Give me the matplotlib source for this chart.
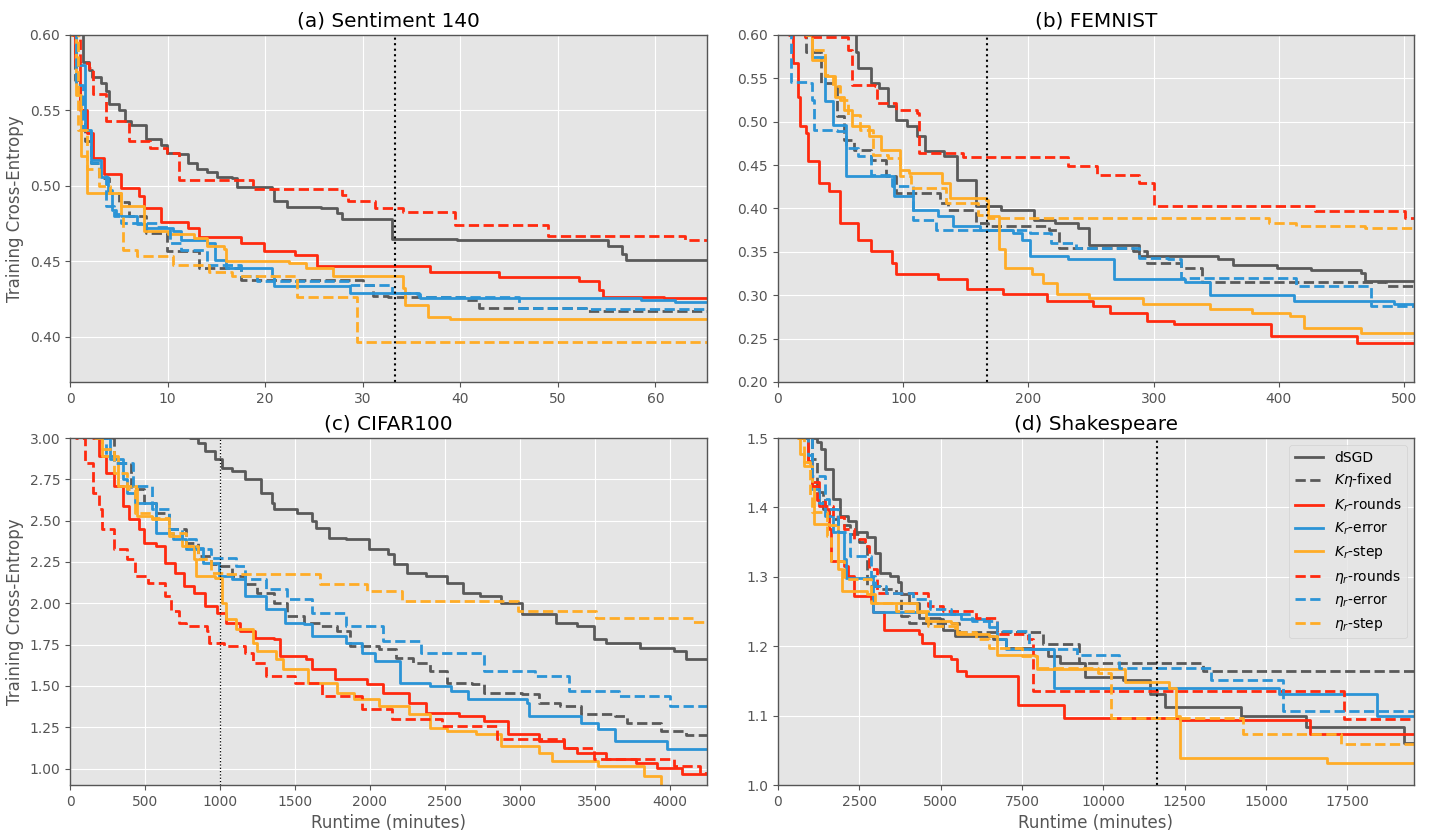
import matplotlib
matplotlib.use("Agg")
import matplotlib.pyplot as plt

plt.style.use("ggplot")

# ------------------------------------------------------------------
# (a) Sentiment 140  -- runtime (minutes), training cross-entropy
# ------------------------------------------------------------------
a_dsgd_t = [0, 1.3, 1.9, 2.3, 3.2, 3.7, 4.0, 5.0, 5.6, 6.3, 7.8, 9.3, 9.9, 11.2, 12.1, 13.0, 14.0, 15.1, 16.6, 17.1,
            20.7, 20.9, 22.2, 25.7, 27.4, 27.9, 33.0, 39.7, 55.1, 56.6, 57.0, 65.3]
a_dsgd_y = [0.65, 0.582, 0.577, 0.572, 0.568, 0.563, 0.554, 0.550, 0.543, 0.540, 0.531, 0.527, 0.522, 0.521, 0.515,
            0.511, 0.509, 0.506, 0.505, 0.499, 0.498, 0.490, 0.486, 0.485, 0.482, 0.478, 0.465, 0.464, 0.460, 0.455,
            0.451, 0.451]
a_kfix_t = [0, 0.5, 1.0, 1.5, 2.2, 3.0, 4.0, 5.0, 6.0, 7.8, 9.9, 13.2, 17.5, 30.0, 31.1, 32.6, 40.4, 41.9, 52.9, 65.3]
a_kfix_y = [0.62, 0.57, 0.55, 0.53, 0.515, 0.505, 0.495, 0.489, 0.480, 0.469, 0.4565, 0.4455, 0.4377, 0.434, 0.427,
            0.4266, 0.424, 0.419, 0.4171, 0.4171]
a_krr_t = [0, 0.5, 1.0, 1.7, 2.4, 3.5, 5.2, 7.1, 7.6, 9.3, 12.1, 13.2, 17.5, 19.9, 23.1, 25.3, 36.9, 44.0, 52.2, 54.2,
           54.6, 60.9, 65.3]
a_krr_y = [0.62, 0.58, 0.55, 0.535, 0.5185, 0.508, 0.4986, 0.493, 0.4853, 0.4758, 0.472, 0.466, 0.462, 0.4565, 0.4543,
           0.447, 0.4432, 0.4395, 0.4372, 0.431, 0.4266, 0.4257, 0.4257]
a_kre_t = [0, 0.6, 1.5, 2.2, 3.2, 3.9, 4.3, 4.7, 5.2, 6.9, 7.8, 10.6, 11.4, 14.0, 14.9, 16.0, 20.7, 20.9, 28.5, 28.7,
           35.6, 35.9, 58.5, 62.0, 65.3]
a_kre_y = [0.62, 0.58, 0.537, 0.517, 0.506, 0.4975, 0.484, 0.481, 0.4798, 0.475, 0.472, 0.470, 0.4643, 0.462, 0.451,
           0.4455, 0.440, 0.4337, 0.4337, 0.4288, 0.4284, 0.4255, 0.4245, 0.4233, 0.4233]
a_krs_t = [0, 0.6, 1.1, 1.7, 5.2, 7.6, 10.0, 12.7, 14.0, 15.8, 16.0, 22.4, 24.2, 27.0, 34.1, 34.3, 36.7, 38.9, 65.3]
a_krs_y = [0.60, 0.56, 0.52, 0.4953, 0.4864, 0.470, 0.468, 0.4654, 0.4598, 0.458, 0.450, 0.449, 0.4455, 0.440, 0.432,
           0.421, 0.4133, 0.4115, 0.4115]
a_err_t = [0, 0.3, 1.0, 1.9, 2.4, 3.7, 6.0, 8.2, 9.9, 11.2, 18.8, 27.9, 28.5, 31.3, 34.1, 39.5, 49.0, 63.0, 65.3]
a_err_y = [0.62, 0.60, 0.5817, 0.578, 0.5606, 0.5429, 0.5296, 0.5252, 0.5219, 0.5041, 0.4979, 0.494, 0.4897, 0.4853,
           0.4824, 0.4742, 0.4665, 0.4638, 0.4638]
a_ere_t = [0, 0.65, 1.3, 2.2, 3.0, 3.7, 4.5, 5.2, 8.9, 10.2, 11.4, 14.0, 17.5, 19.2, 28.7, 33.0, 35.8, 46.0, 52.9, 65.3]
a_ere_y = [0.62, 0.567, 0.537, 0.5152, 0.5064, 0.4864, 0.4798, 0.4753, 0.473, 0.462, 0.4576, 0.4477, 0.440, 0.4372,
           0.434, 0.4288, 0.4266, 0.419, 0.4183, 0.4183]
a_ers_t = [0, 0.86, 1.7, 3.0, 4.1, 5.2, 5.4, 6.9, 10.6, 14.2, 16.6, 23.3, 29.4, 65.3]
a_ers_y = [0.62, 0.537, 0.511, 0.4997, 0.4953, 0.4798, 0.4576, 0.4532, 0.4477, 0.4432, 0.440, 0.4266, 0.3963, 0.3963]

# ------------------------------------------------------------------
# (b) FEMNIST
# ------------------------------------------------------------------
b_dsgd_t = [0, 62.5, 64.2, 74.2, 80.9, 87.6, 94.3, 102.7, 111.0, 117.7, 132.8, 142.8, 157.9, 177.9, 204.7, 221.4,
            239.8, 248.2, 288.3, 351.8, 363.5, 398.7, 425.4, 465.6, 468.9, 508]
b_dsgd_y = [0.65, 0.58, 0.5617, 0.5444, 0.5387, 0.5176, 0.5022, 0.4946, 0.483, 0.4658, 0.46, 0.4332, 0.4025, 0.3987,
            0.3872, 0.3834, 0.3776, 0.3584, 0.345, 0.3412, 0.3343, 0.3316, 0.3290, 0.3259, 0.3163, 0.3163]
b_kfix_t = [0, 22.4, 34.1, 47.5, 52.5, 60.9, 74.2, 86.0, 94.3, 129.4, 136.1, 157.9, 167.9, 216.4, 224.7, 283.3, 295.0,
            321.7, 338.5, 485.6, 508]
b_kfix_y = [0.65, 0.58, 0.5444, 0.5061, 0.4792, 0.4677, 0.4562, 0.437, 0.4179, 0.4064, 0.3987, 0.3834, 0.3796,
            0.3757, 0.3546, 0.3508, 0.3374, 0.3316, 0.3151, 0.3105, 0.3105]
b_krr_t = [0, 9.0, 12.4, 15.7, 17.4, 22.4, 24.1, 32.4, 40.8, 49.2, 64.2, 74.2, 91.0, 94.3, 127.8, 151.2, 179.6, 214.7,
           251.5, 264.9, 295.0, 316.7, 393.6, 462.2, 508]
b_krr_y = [0.65, 0.60, 0.5674, 0.529, 0.4946, 0.4869, 0.4543, 0.4293, 0.4198, 0.3834, 0.3642, 0.3508, 0.3374, 0.3239,
           0.3182, 0.3067, 0.3009, 0.2933, 0.2875, 0.2791, 0.2702, 0.2664, 0.253, 0.2453, 0.2453]
b_kre_t = [0, 22.4, 27.4, 37.5, 44.1, 54.2, 92.6, 107.7, 127.8, 139.5, 161.2, 188.0, 194.6, 201.3, 231.4, 268.2,
           325.1, 345.2, 412.0, 492.3, 508]
b_kre_y = [0.65, 0.60, 0.575, 0.5233, 0.4965, 0.437, 0.414, 0.3987, 0.391, 0.3796, 0.3757, 0.3719, 0.3642, 0.345,
           0.3412, 0.3182, 0.3151, 0.2998, 0.2933, 0.2894, 0.2894]
b_krs_t = [0, 22.4, 27.4, 37.5, 45.8, 52.5, 59.2, 72.6, 82.6, 97.7, 104.3, 131.1, 137.8, 166.2, 167.9, 176.3, 181.3,
           203.0, 211.4, 223.1, 248.2, 291.6, 345.2, 378.6, 408.7, 420.4, 465.6, 508]
b_krs_y = [0.65, 0.60, 0.5712, 0.5521, 0.529, 0.5137, 0.4946, 0.483, 0.4677, 0.4447, 0.4409, 0.4293, 0.4121, 0.4102,
           0.3911, 0.3527, 0.3316, 0.3239, 0.3143, 0.3009, 0.2971, 0.2894, 0.2837, 0.2798, 0.276, 0.2626, 0.2568,
           0.2568]
b_err_t = [0, 22.0, 55.9, 59.2, 77.6, 79.3, 94.3, 111.0, 112.7, 147.8, 231.4, 254.8, 288.3, 300.0, 428.8, 500.7, 508]
b_err_y = [0.65, 0.598, 0.583, 0.5425, 0.5406, 0.5214, 0.5137, 0.51, 0.4639, 0.4593, 0.4485, 0.439, 0.4293, 0.4033,
           0.3968, 0.3891, 0.3891]
b_ere_t = [0, 10.7, 24.1, 27.4, 29.1, 47.5, 54.2, 64.2, 74.2, 91.0, 107.7, 126.1, 201.3, 218.1, 238.1, 288.3, 311.7,
           321.7, 413.7, 473.9, 508]
b_ere_y = [0.65, 0.5463, 0.5444, 0.5252, 0.4907, 0.4888, 0.4696, 0.46, 0.439, 0.4255, 0.3872, 0.3757, 0.3719, 0.3604,
           0.3546, 0.3431, 0.3412, 0.32, 0.3105, 0.2875, 0.2875]
b_ers_t = [0, 22.4, 27.4, 37.5, 44.1, 49.2, 55.9, 65.9, 75.9, 87.6, 97.7, 106.0, 134.4, 159.5, 167.9, 392.0, 413.7,
           468.9, 508]
b_ers_y = [0.65, 0.60, 0.5827, 0.554, 0.5406, 0.5252, 0.508, 0.4907, 0.462, 0.4581, 0.437, 0.4236, 0.4064, 0.393,
           0.3891, 0.3834, 0.3796, 0.3776, 0.3776]

# ------------------------------------------------------------------
# (c) CIFAR100
# ------------------------------------------------------------------
c_dsgd_t = [0, 800, 856, 898, 968, 1011, 1081, 1165, 1277, 1347, 1361, 1516, 1614, 1642, 1726, 1839, 1993, 2119, 2161,
            2246, 2372, 2512, 2625, 2737, 2877, 3018, 3242, 3382, 3495, 3579, 3803, 4028, 4112, 4250]
c_dsgd_y = [3.1, 3.0, 2.972, 2.921, 2.871, 2.82, 2.80, 2.75, 2.669, 2.609, 2.568, 2.548, 2.498, 2.457, 2.397, 2.387,
            2.326, 2.296, 2.235, 2.185, 2.165, 2.124, 2.064, 2.044, 2.003, 1.933, 1.882, 1.862, 1.781, 1.761, 1.731,
            1.711, 1.661, 1.661]
c_kfix_t = [0, 196, 295, 407, 491, 575, 660, 772, 856, 940, 996, 1081, 1165, 1249, 1361, 1446, 1558, 1670, 1782, 1867,
            2063, 2175, 2288, 2400, 2512, 2681, 2765, 3018, 3130, 3270, 3411, 3635, 3719, 3944, 4112, 4250]
c_kfix_y = [3.1, 3.0, 2.851, 2.689, 2.609, 2.548, 2.447, 2.367, 2.286, 2.235, 2.225, 2.165, 2.114, 2.064, 2.003,
            1.923, 1.882, 1.862, 1.832, 1.741, 1.721, 1.671, 1.640, 1.59, 1.519, 1.509, 1.459, 1.449, 1.398, 1.378,
            1.328, 1.318, 1.277, 1.227, 1.20, 1.20]
c_krr_t = [0, 154, 196, 239, 295, 351, 393, 463, 491, 575, 632, 702, 758, 828, 898, 982, 1039, 1137, 1235, 1361, 1404,
           1572, 1614, 1768, 1979, 2091, 2260, 2372, 2597, 2765, 2919, 3130, 3298, 3382, 3579, 3775, 3916, 4084, 4250]
c_krr_y = [3.1, 3.0, 2.891, 2.79, 2.71, 2.588, 2.508, 2.447, 2.367, 2.346, 2.246, 2.185, 2.104, 2.064, 1.983, 1.943,
           1.882, 1.832, 1.792, 1.782, 1.681, 1.661, 1.60, 1.54, 1.509, 1.459, 1.398, 1.338, 1.318, 1.287, 1.207,
           1.166, 1.126, 1.096, 1.055, 1.035, 1.005, 0.964, 0.964]
c_kre_t = [0, 196, 267, 351, 379, 435, 575, 688, 772, 884, 996, 1081, 1165, 1305, 1432, 1558, 1614, 1839, 1951, 2035,
           2204, 2400, 2540, 2653, 3046, 3060, 3411, 3523, 3635, 3986, 4250]
c_kre_y = [3.1, 3.0, 2.871, 2.75, 2.669, 2.609, 2.427, 2.387, 2.326, 2.246, 2.165, 2.145, 2.044, 1.963, 1.882, 1.872,
           1.802, 1.761, 1.701, 1.65, 1.519, 1.499, 1.469, 1.418, 1.398, 1.318, 1.277, 1.237, 1.166, 1.116, 1.116]
c_krs_t = [0, 168, 211, 323, 449, 547, 660, 744, 828, 842, 968, 1011, 1039, 1109, 1221, 1249, 1375, 1418, 1586, 1782,
           1895, 2063, 2260, 2400, 2512, 2709, 2877, 3130, 3214, 3523, 3832, 3944, 4250]
c_krs_y = [3.1, 3.0, 2.891, 2.71, 2.528, 2.508, 2.407, 2.346, 2.266, 2.165, 2.155, 2.003, 1.903, 1.842, 1.761, 1.711,
           1.661, 1.60, 1.519, 1.459, 1.418, 1.378, 1.328, 1.247, 1.227, 1.207, 1.136, 1.096, 1.045, 1.015, 0.954,
           0.88, 0.88]
c_err_t = [0, 42, 98, 154, 196, 211, 295, 379, 435, 519, 632, 674, 730, 772, 912, 926, 1025, 1165, 1221, 1305, 1502,
           1684, 1951, 2147, 2484, 2849, 3298, 3495, 4028, 4200, 4250]
c_err_y = [3.1, 3.0, 2.851, 2.669, 2.568, 2.447, 2.326, 2.266, 2.165, 2.124, 2.044, 1.953, 1.882, 1.862, 1.832, 1.761,
           1.741, 1.701, 1.64, 1.56, 1.519, 1.438, 1.358, 1.297, 1.257, 1.176, 1.126, 1.055, 1.015, 0.975, 0.975]
c_ere_t = [0, 196, 239, 295, 421, 547, 660, 744, 842, 884, 940, 1109, 1165, 1305, 1446, 1614, 1839, 2091, 2344, 2765,
           3102, 3326, 3663, 4000, 4250]
c_ere_y = [3.1, 3.0, 2.891, 2.851, 2.71, 2.568, 2.447, 2.387, 2.336, 2.326, 2.276, 2.225, 2.145, 2.084, 2.024, 1.943,
           1.862, 1.771, 1.701, 1.59, 1.56, 1.469, 1.438, 1.378, 1.378]
c_ers_t = [0, 168, 211, 295, 379, 435, 547, 660, 772, 856, 940, 1025, 1670, 1979, 2218, 2989, 3509, 4154, 4250]
c_ers_y = [3.1, 3.0, 2.931, 2.79, 2.689, 2.548, 2.518, 2.427, 2.346, 2.266, 2.185, 2.175, 2.114, 2.074, 2.014, 1.953,
           1.913, 1.886, 1.886]

# ------------------------------------------------------------------
# (d) Shakespeare
# ------------------------------------------------------------------
d_dsgd_t = [0, 1123, 1187, 1317, 1446, 1704, 1897, 2155, 2414, 2736, 2994, 3124, 3446, 3704, 3769, 4027, 4350, 4995,
            5060, 5447, 6608, 6996, 7770, 8286, 8673, 9448, 10610, 11449, 11900, 14224, 16224, 19257, 19600]
d_dsgd_y = [1.6, 1.5, 1.494, 1.484, 1.455, 1.412, 1.388, 1.381, 1.364, 1.357, 1.335, 1.306, 1.301, 1.292, 1.275,
            1.263, 1.241, 1.239, 1.224, 1.215, 1.21, 1.198, 1.196, 1.186, 1.176, 1.155, 1.151, 1.131, 1.112, 1.10,
            1.083, 1.061, 1.061]
d_kfix_t = [0, 865, 1058, 1187, 1381, 1575, 1833, 2220, 2478, 2736, 3124, 3640, 3769, 4027, 5576, 8157, 9254, 13062,
            19600]
d_kfix_y = [1.6, 1.5, 1.47, 1.422, 1.398, 1.383, 1.374, 1.362, 1.35, 1.287, 1.282, 1.277, 1.244, 1.234, 1.22, 1.203,
            1.176, 1.164, 1.164]
d_krr_t = [0, 736, 929, 1058, 1252, 1446, 1575, 1639, 2026, 2155, 2349, 2865, 2930, 3253, 4350, 4414, 4801, 5318,
           5511, 5769, 7383, 8803, 12352, 16353, 19600]
d_krr_y = [1.6, 1.5, 1.467, 1.436, 1.402, 1.398, 1.369, 1.323, 1.316, 1.301, 1.273, 1.265, 1.249, 1.224, 1.217,
           1.205, 1.186, 1.181, 1.164, 1.157, 1.115, 1.097, 1.094, 1.073, 1.073]
d_kre_t = [0, 800, 929, 1058, 1252, 1446, 1704, 2026, 2091, 2930, 4608, 5640, 6479, 6738, 6996, 8480, 15386, 18418,
           19600]
d_kre_y = [1.6, 1.5, 1.475, 1.426, 1.407, 1.388, 1.364, 1.325, 1.299, 1.249, 1.246, 1.239, 1.227, 1.21, 1.196, 1.14,
           1.131, 1.10, 1.10]
d_krs_t = [0, 607, 671, 800, 1058, 1123, 1575, 1833, 1962, 2736, 2994, 4285, 4543, 5318, 5511, 6479, 6738, 7899, 7964,
           10674, 12029, 12223, 12352, 16870, 19600]
d_krs_y = [1.6, 1.5, 1.477, 1.46, 1.431, 1.376, 1.374, 1.311, 1.28, 1.275, 1.263, 1.249, 1.237, 1.234, 1.217, 1.215,
           1.188, 1.186, 1.167, 1.149, 1.14, 1.10, 1.039, 1.032, 1.032]
d_err_t = [0, 800, 929, 1058, 1187, 1446, 1704, 2026, 2349, 2672, 2801, 3059, 4608, 5060, 6092, 6738, 7700, 7835,
           17386, 19600]
d_err_y = [1.6, 1.5, 1.465, 1.431, 1.41, 1.402, 1.386, 1.369, 1.354, 1.345, 1.311, 1.277, 1.258, 1.251, 1.241, 1.217,
           1.21, 1.136, 1.095, 1.095]
d_ere_t = [0, 865, 1058, 1446, 1575, 1833, 2220, 2865, 2994, 3317, 4156, 4672, 5318, 5963, 6738, 7706, 9190, 10480,
           13320, 15515, 19600]
d_ere_y = [1.6, 1.5, 1.446, 1.412, 1.398, 1.364, 1.33, 1.301, 1.287, 1.277, 1.268, 1.253, 1.246, 1.237, 1.222, 1.196,
           1.188, 1.168, 1.152, 1.107, 1.107]
d_ers_t = [0, 607, 800, 994, 1058, 1510, 1639, 2026, 2865, 3640, 4608, 5447, 6092, 6479, 7512, 7964, 9835, 10222,
           14288, 17321, 19600]
d_ers_y = [1.6, 1.5, 1.465, 1.417, 1.393, 1.359, 1.323, 1.297, 1.263, 1.251, 1.229, 1.22, 1.21, 1.198, 1.186, 1.169,
           1.162, 1.097, 1.073, 1.059, 1.059]

# ------------------------------------------------------------------
# styling
# ------------------------------------------------------------------
GRAY = "#595959"
RED = "#ff2a0f"
BLUE = "#2b94d6"
ORANGE = "#ffac27"

LABELS = ["dSGD", r"$K\eta$-fixed", r"$K_r$-rounds", r"$K_r$-error", r"$K_r$-step",
          r"$\eta_r$-rounds", r"$\eta_r$-error", r"$\eta_r$-step"]
STYLES = [(GRAY, "-"), (GRAY, "--"), (RED, "-"), (BLUE, "-"), (ORANGE, "-"),
          (RED, "--"), (BLUE, "--"), (ORANGE, "--")]

panels = [
    dict(title="(a) Sentiment 140", rect=[0.049, 0.5442, 0.4458, 0.4141],
         series=[(a_dsgd_t, a_dsgd_y), (a_kfix_t, a_kfix_y), (a_krr_t, a_krr_y), (a_kre_t, a_kre_y),
                 (a_krs_t, a_krs_y), (a_err_t, a_err_y), (a_ere_t, a_ere_y), (a_ers_t, a_ers_y)],
         xlim=(0, 65.3), ylim=(0.37, 0.60), xticks=range(0, 61, 10),
         yticks=[0.40, 0.45, 0.50, 0.55, 0.60], vline=33.3, vlw=1.5, ylabel=True, xlabel=False),
    dict(title="(b) FEMNIST", rect=[0.5444, 0.5442, 0.4451, 0.4141],
         series=[(b_dsgd_t, b_dsgd_y), (b_kfix_t, b_kfix_y), (b_krr_t, b_krr_y), (b_kre_t, b_kre_y),
                 (b_krs_t, b_krs_y), (b_err_t, b_err_y), (b_ere_t, b_ere_y), (b_ers_t, b_ers_y)],
         xlim=(0, 508), ylim=(0.20, 0.60), xticks=range(0, 501, 100),
         yticks=[0.20, 0.25, 0.30, 0.35, 0.40, 0.45, 0.50, 0.55, 0.60], vline=167, vlw=1.5,
         ylabel=False, xlabel=False),
    dict(title="(c) CIFAR100", rect=[0.049, 0.0632, 0.4458, 0.4141],
         series=[(c_dsgd_t, c_dsgd_y), (c_kfix_t, c_kfix_y), (c_krr_t, c_krr_y), (c_kre_t, c_kre_y),
                 (c_krs_t, c_krs_y), (c_err_t, c_err_y), (c_ere_t, c_ere_y), (c_ers_t, c_ers_y)],
         xlim=(0, 4250), ylim=(0.9, 3.0), xticks=range(0, 4001, 500),
         yticks=[1.00, 1.25, 1.50, 1.75, 2.00, 2.25, 2.50, 2.75, 3.00], vline=1000, vlw=0.9,
         ylabel=True, xlabel=True),
    dict(title="(d) Shakespeare", rect=[0.5444, 0.0632, 0.4451, 0.4141],
         series=[(d_dsgd_t, d_dsgd_y), (d_kfix_t, d_kfix_y), (d_krr_t, d_krr_y), (d_kre_t, d_kre_y),
                 (d_krs_t, d_krs_y), (d_err_t, d_err_y), (d_ere_t, d_ere_y), (d_ers_t, d_ers_y)],
         xlim=(0, 19550), ylim=(1.0, 1.5), xticks=range(0, 17501, 2500),
         yticks=[1.0, 1.1, 1.2, 1.3, 1.4, 1.5], vline=11650, vlw=1.5, ylabel=False, xlabel=True),
]

fig = plt.figure(figsize=(14.29, 8.38), dpi=100)

for p in panels:
    ax = fig.add_axes(p["rect"])
    for (t, y), (col, ls), lab in zip(p["series"], STYLES, LABELS):
        ax.step(t, y, where="post", color=col, linestyle=ls, linewidth=2, label=lab)
    ax.axvline(p["vline"], color="black", linestyle=":", linewidth=p["vlw"])
    ax.set_xlim(*p["xlim"])
    ax.set_ylim(*p["ylim"])
    ax.set_xticks(list(p["xticks"]))
    ax.set_yticks(p["yticks"])
    ax.set_title(p["title"], color="black")
    if p["ylabel"]:
        ax.set_ylabel("Training Cross-Entropy")
    if p["xlabel"]:
        ax.set_xlabel("Runtime (minutes)")
    for s in ax.spines.values():
        s.set_visible(True)
        s.set_color("#555555")
        s.set_linewidth(1.0)
    if p["title"].startswith("(d)"):
        ax.legend(loc="upper right", fontsize=10)

fig.savefig("out.png", dpi=100)
